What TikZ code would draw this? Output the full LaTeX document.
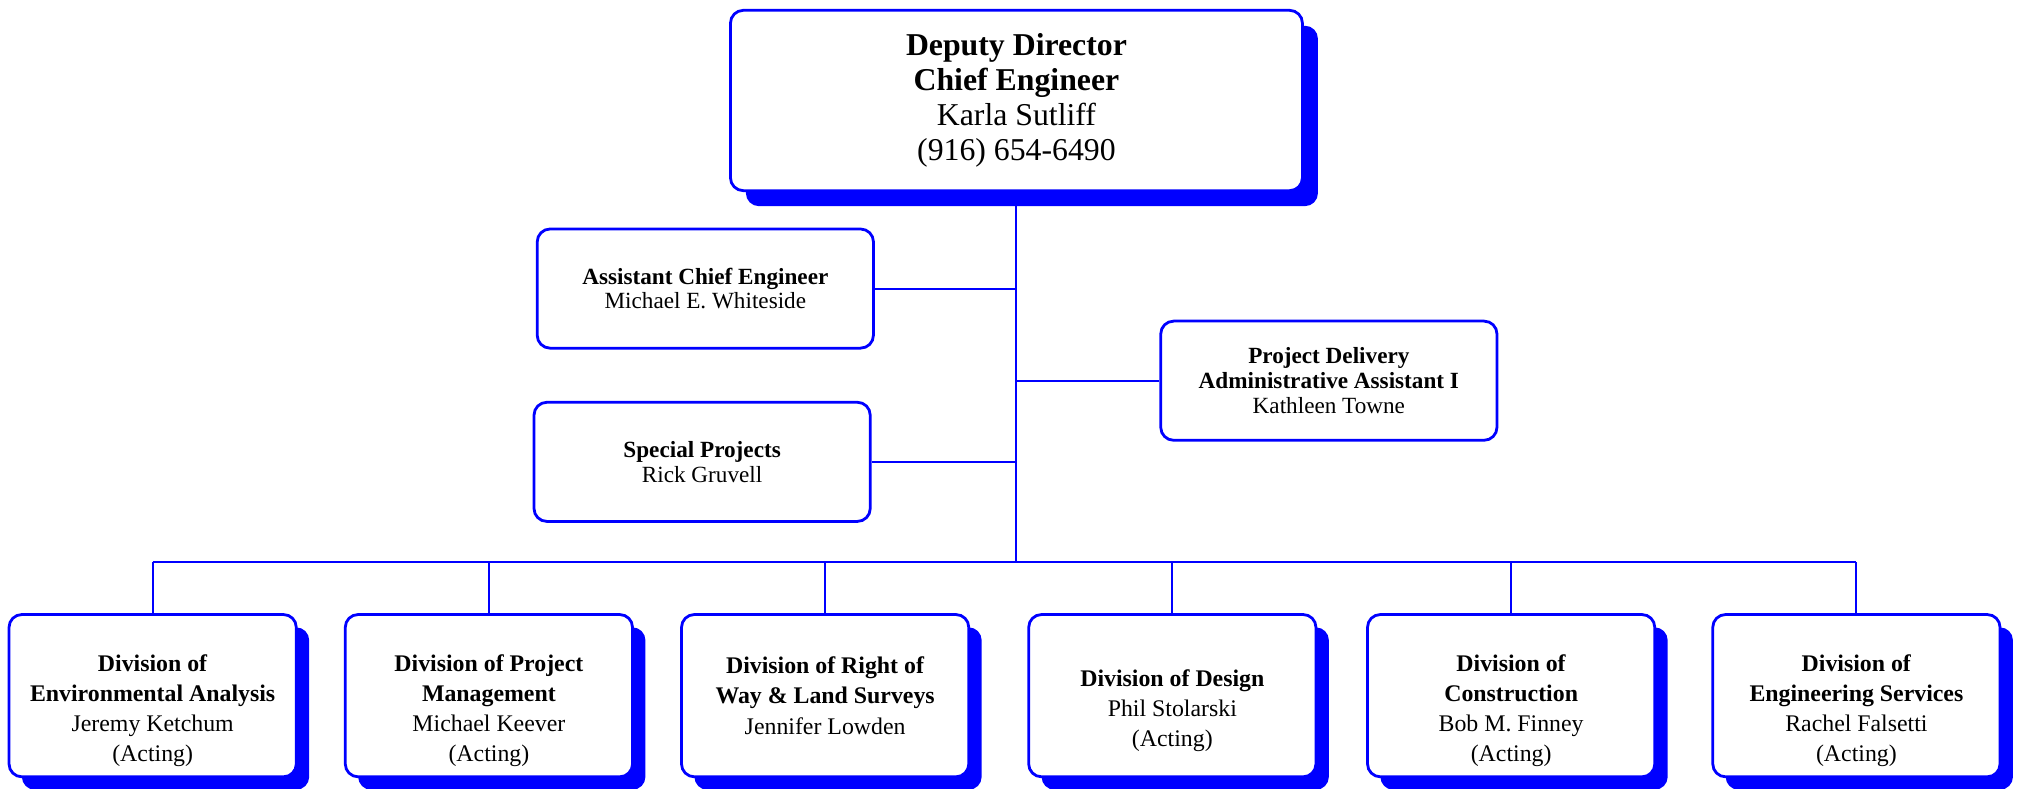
\documentclass[tikz,border=0pt]{standalone}
\usepackage{fontspec}
\setmainfont{Liberation Serif}
\usetikzlibrary{shadows}

\tikzset{
  orgbox/.style={draw=blue, line width=1.3pt, rounded corners=6pt, fill=white, inner sep=0pt},
  chiefbox/.style={orgbox, minimum width=266.4pt, minimum height=84pt,
    drop shadow={fill=blue, opacity=1, shadow xshift=7.2pt, shadow yshift=-7.2pt},
    align=center, font=\fontsize{14.8}{16.3}\selectfont},
  staffbox/.style={orgbox, minimum width=156.6pt, minimum height=55.5pt,
    align=center, font=\fontsize{10.8}{11.5}\selectfont},
  divbox/.style={orgbox, minimum width=133.8pt, minimum height=75.6pt,
    drop shadow={fill=blue, opacity=1, shadow xshift=6pt, shadow yshift=-6pt}},
  divtext/.style={align=center, font=\fontsize{11.1}{14}\selectfont},
  link/.style={draw=blue, line width=0.9pt}
}

\begin{document}
\begin{tikzpicture}[x=0.6pt, y=-0.6pt]
  \useasboundingbox (0,0) rectangle (1568,612);

  % top of the chart
  \node[chiefbox] (chief) at (789,78) {\textbf{Deputy Director}\\ \textbf{Chief Engineer}\\ Karla Sutliff\\ (916) 654-6490};

  % staff boxes
  \node[staffbox] (ace) at (547.5,224) {\textbf{Assistant Chief Engineer}\\ Michael E. Whiteside};
  \node[staffbox] (special) at (545,358.5) {\textbf{Special Projects}\\ Rick Gruvell};
  \node[staffbox] (delivery) at (1031.5,295.5) {\textbf{Project Delivery}\\ \textbf{Administrative Assistant I}\\ Kathleen Towne};

  % divisions
  \node[divbox] (d1) at (118.5,540) {};
  \node[divbox] (d2) at (379.5,540) {};
  \node[divbox] (d3) at (640.5,540) {};
  \node[divbox] (d4) at (910,540) {};
  \node[divbox] (d5) at (1173,540) {};
  \node[divbox] (d6) at (1441,540) {};

  \node[divtext] (d1txt) at (118.5,551.5) {\textbf{Division of}\\ \textbf{Environmental Analysis}\\ Jeremy Ketchum\\ (Acting)};
  \node[divtext] (d2txt) at (379.5,551.5) {\textbf{Division of Project}\\ \textbf{Management}\\ Michael Keever\\ (Acting)};
  \node[divtext] (d3txt) at (640.5,540) {\textbf{Division of Right of}\\ \textbf{Way \& Land Surveys}\\ Jennifer Lowden};
  \node[divtext] (d4txt) at (910,551.5) {\textbf{Division of Design}\\ Phil Stolarski\\ (Acting)};
  \node[divtext] (d5txt) at (1173,551.5) {\textbf{Division of}\\ \textbf{Construction}\\ Bob M. Finney\\ (Acting)};
  \node[divtext] (d6txt) at (1441,551.5) {\textbf{Division of}\\ \textbf{Engineering Services}\\ Rachel Falsetti\\ (Acting)};

  % lines
  \coordinate (bus) at (789,436);
  \draw[link] (chief.south) -- (bus);
  \draw[link] (ace.east) -- (ace.east -| bus);
  \draw[link] (special.east) -- (special.east -| bus);
  \draw[link] (delivery.west) -- (delivery.west -| bus);
  \draw[link] (d1.north |- bus) -- (d6.north |- bus);
  \foreach \i in {1,...,6}
    \draw[link] (d\i.north) -- (d\i.north |- bus);
\end{tikzpicture}
\end{document}
